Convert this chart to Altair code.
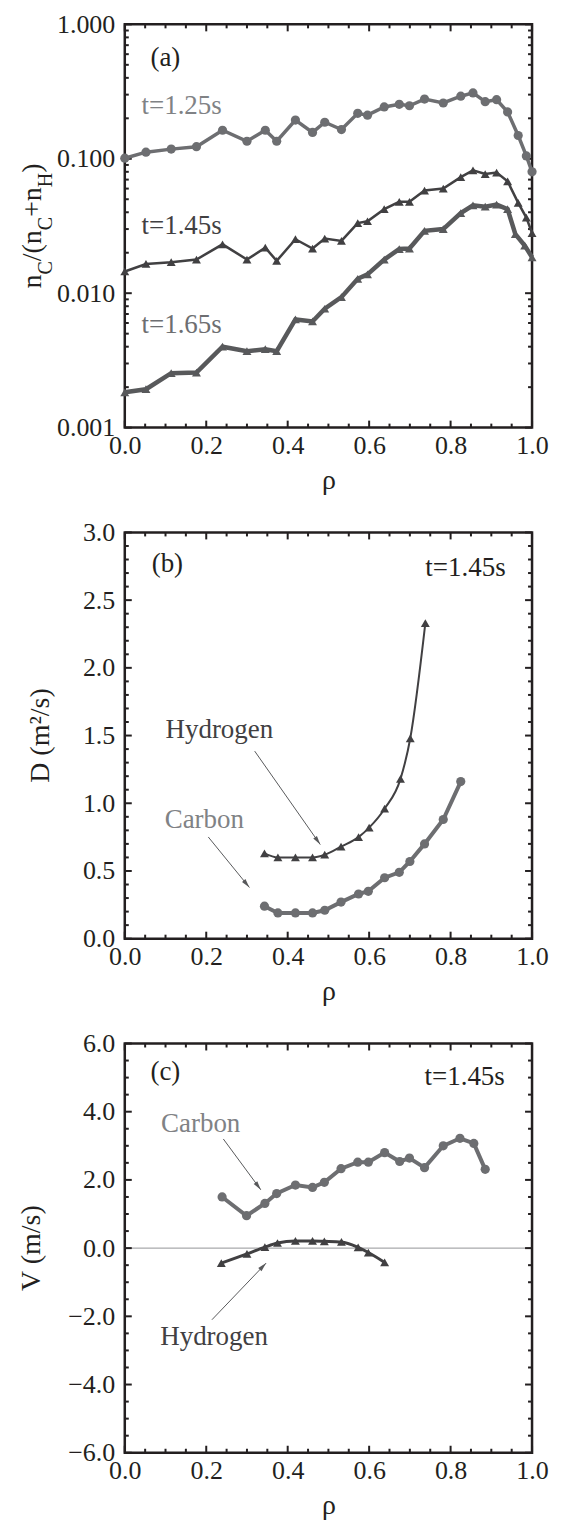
import math
import altair as alt
import pandas as pd

FONT = "Liberation Serif"

# ---------------- data ----------------
# Panel (a): carbon concentration profiles
rho_a = [0.000, 0.052, 0.114, 0.176, 0.240, 0.300, 0.345, 0.373, 0.419, 0.461,
         0.491, 0.532, 0.572, 0.596, 0.637, 0.674, 0.699, 0.736, 0.782, 0.825,
         0.855, 0.885, 0.913, 0.940, 0.966, 0.986, 1.000]
nc_125 = [0.101, 0.112, 0.118, 0.123, 0.163, 0.135, 0.163, 0.135, 0.194, 0.157,
          0.187, 0.165, 0.218, 0.211, 0.243, 0.254, 0.248, 0.278, 0.260, 0.292,
          0.309, 0.266, 0.275, 0.223, 0.149, 0.105, 0.080]
nc_145 = [0.0145, 0.0165, 0.0170, 0.0178, 0.0231, 0.0178, 0.0218, 0.0174, 0.0252, 0.0215,
          0.0255, 0.0245, 0.0332, 0.0343, 0.0422, 0.0478, 0.0478, 0.058, 0.060, 0.073,
          0.082, 0.077, 0.079, 0.068, 0.047, 0.0365, 0.028]
rho_165 = [0.000, 0.052, 0.114, 0.176, 0.240, 0.300, 0.345, 0.373, 0.419, 0.461,
           0.491, 0.532, 0.572, 0.596, 0.637, 0.674, 0.699, 0.736, 0.782, 0.825,
           0.855, 0.885, 0.913, 0.940, 0.959, 0.982, 1.000]
nc_165 = [0.00183, 0.00193, 0.00254, 0.00257, 0.0040, 0.0037, 0.00383, 0.0037, 0.00638, 0.00616,
          0.00766, 0.00934, 0.0128, 0.0138, 0.0178, 0.0213, 0.0215, 0.0291, 0.030, 0.0394,
          0.0451, 0.044, 0.0456, 0.0422, 0.0275, 0.0226, 0.0185]

# Panel (b): diffusion coefficients
rho_bH = [0.343, 0.376, 0.419, 0.461, 0.491, 0.531, 0.574, 0.600, 0.638, 0.677, 0.701, 0.738]
D_H = [0.63, 0.60, 0.60, 0.60, 0.62, 0.68, 0.75, 0.82, 0.96, 1.18, 1.48, 2.33]
rho_bC = [0.343, 0.376, 0.419, 0.461, 0.491, 0.531, 0.574, 0.598, 0.638, 0.674, 0.700, 0.736, 0.782, 0.825]
D_C = [0.24, 0.19, 0.19, 0.19, 0.21, 0.27, 0.33, 0.35, 0.45, 0.49, 0.57, 0.70, 0.88, 1.16]

# Panel (c): convection velocities
rho_cC = [0.239, 0.299, 0.344, 0.373, 0.419, 0.461, 0.490, 0.531, 0.572, 0.598,
          0.638, 0.675, 0.699, 0.736, 0.782, 0.823, 0.857, 0.885]
V_C = [1.50, 0.95, 1.31, 1.60, 1.85, 1.78, 1.93, 2.33, 2.52, 2.52,
       2.80, 2.54, 2.64, 2.36, 3.00, 3.22, 3.07, 2.31]
rho_cH = [0.237, 0.300, 0.344, 0.375, 0.419, 0.461, 0.490, 0.532, 0.573, 0.598, 0.638]
V_H = [-0.44, -0.17, 0.03, 0.15, 0.21, 0.21, 0.20, 0.18, 0.02, -0.13, -0.42]

# tick values
x_major = [0.0, 0.2, 0.4, 0.6, 0.8, 1.0]
x_minor = [round(i * 0.05, 2) for i in range(21) if i % 4 != 0]
ya_major = [0.001, 0.01, 0.1, 1.0]
ya_minor = [k * 10 ** d for d in (-3, -2, -1) for k in range(2, 10)]
yb_major = [0.0, 0.5, 1.0, 1.5, 2.0, 2.5, 3.0]
yb_minor = [round(i * 0.1, 1) for i in range(31) if i % 5 != 0]
yc_major = [-6.0, -4.0, -2.0, 0.0, 2.0, 4.0, 6.0]
yc_minor = [-6 + 0.5 * i for i in range(25) if i % 4 != 0]

# ---------------- styles ----------------
W = 408
HA, HB, HC = 404, 407, 410
C_GRAY = "#6d6e71"
C_DARK = "#414042"
C_MID = "#58595b"
C_TXT_LIGHT = "#808285"
C_BLACK = "#231f20"

xs = alt.Scale(domain=[0, 1], nice=False, zero=False, padding=0)
XAX = alt.Axis(values=x_major, format=".1f", title="ρ", labelFont=FONT, titleFont=FONT,
               labelFontSize=26, titleFontSize=28, labelFlush=False, labelOverlap=False)


class Panel:
    def __init__(self, ys, yvals, yfmt, H):
        self.ys = ys
        self.H = H
        self.yax = alt.Axis(values=yvals, format=yfmt, title=None, labelFont=FONT,
                            labelFontSize=26, labelFlush=False, labelOverlap=False)

    def X(self, f):
        return alt.X(f, scale=xs, axis=XAX)

    def Y(self, f):
        return alt.Y(f, scale=self.ys, axis=self.yax)

    def series(self, rho, vals, color, sw, shape, size, interp="linear"):
        d = pd.DataFrame({"r": rho, "v": vals})
        base = alt.Chart(d).encode(x=self.X("r:Q"), y=self.Y("v:Q"))
        return [
            base.mark_line(color=color, strokeWidth=sw, interpolate=interp),
            base.mark_point(filled=True, shape=shape, size=size, color=color, opacity=1),
        ]

    def ticks(self, ymaj, ymin, L1=7, L2=4):
        layers = []
        for vals, L in [(ymaj, L1), (ymin, L2)]:
            base = alt.Chart(pd.DataFrame({"v": vals})).mark_rule(color=C_BLACK, strokeWidth=2)
            layers.append(base.encode(y=self.Y("v:Q"), x=alt.value(0), x2=alt.value(L)))
            layers.append(base.encode(y=self.Y("v:Q"), x=alt.value(W - L), x2=alt.value(W)))
        for vals, L in [(x_major, L1), (x_minor, L2)]:
            base = alt.Chart(pd.DataFrame({"r": vals})).mark_rule(color=C_BLACK, strokeWidth=2)
            layers.append(base.encode(x=self.X("r:Q"), y=alt.value(self.H - L), y2=alt.value(self.H)))
            layers.append(base.encode(x=self.X("r:Q"), y=alt.value(0), y2=alt.value(L)))
        return layers

    def label(self, text, r, v, color, align="left", fs=27):
        d = pd.DataFrame({"r": [r], "v": [v], "t": [text]})
        return alt.Chart(d).mark_text(
            align=align, baseline="middle", font=FONT, fontSize=fs, color=color
        ).encode(x=self.X("r:Q"), y=self.Y("v:Q"), text="t:N")

    def arrow(self, r1, v1, r2, v2, yrange, color="#58595b"):
        d = pd.DataFrame({"r": [r1], "v": [v1], "r2": [r2], "v2": [v2]})
        rule = alt.Chart(d).mark_rule(color=color, strokeWidth=1).encode(
            x=self.X("r:Q"), y=self.Y("v:Q"), x2="r2:Q", y2="v2:Q"
        )
        dx = (r2 - r1) * W
        dy = -(v2 - v1) * self.H / yrange
        ang = math.degrees(math.atan2(dx, -dy)) % 360
        head = alt.Chart(pd.DataFrame({"r": [r2], "v": [v2]})).mark_point(
            shape="M0,0L-0.5,2L0.5,2Z", size=81, angle=ang, filled=True,
            color=color, opacity=1, strokeWidth=0,
        ).encode(x=self.X("r:Q"), y=self.Y("v:Q"))
        return [rule, head]


def vtext(text, px, py, fs, align="left"):
    return alt.Chart(pd.DataFrame({"t": [text]})).mark_text(
        angle=270, align=align, baseline="alphabetic", font=FONT, fontSize=fs, color=C_BLACK
    ).encode(x=alt.value(px), y=alt.value(py), text="t:N")


# ---------------- panel (a) ----------------
A = Panel(alt.Scale(type="log", domain=[0.001, 1.0], nice=False, padding=0), ya_major, ".3f", HA)
FS_T, FS_S = 28, 20
pieces = [("n", FS_T, 0.5), ("C", FS_S, 0.667), ("/(n", FS_T, 1.111),
          ("C", FS_S, 0.667), ("+n", FS_T, 1.064), ("H", FS_S, 0.722), (")", FS_T, 0.333)]
total = sum(fs * w for _, fs, w in pieces)
ypos = HA / 2 + total / 2
title_a = []
for txt, fs, w in pieces:
    px = -84 if fs == FS_T else -73
    title_a.append(vtext(txt, px, ypos, fs))
    ypos -= fs * w

layers_a = (
    A.ticks(ya_major, ya_minor)
    + A.series(rho_a, nc_125, C_GRAY, 3.5, "circle", 85)
    + A.series(rho_a, nc_145, C_DARK, 2.5, "triangle-up", 80)
    + A.series(rho_165, nc_165, C_MID, 4.5, "triangle-up", 80)
    + [
        A.label("(a)", 0.063, 0.56, C_BLACK),
        A.label("t=1.25s", 0.041, 0.248, C_TXT_LIGHT),
        A.label("t=1.45s", 0.041, 0.0317, C_DARK),
        A.label("t=1.65s", 0.041, 0.00575, C_GRAY),
    ]
    + title_a
)
pa = alt.layer(*layers_a).properties(width=W, height=HA)

# ---------------- panel (b) ----------------
B = Panel(alt.Scale(domain=[0, 3], nice=False, zero=False, padding=0), yb_major, ".1f", HB)
layers_b = (
    B.ticks(yb_major, yb_minor)
    + B.series(rho_bC, D_C, C_GRAY, 4, "circle", 85)
    + B.series(rho_bH, D_H, C_DARK, 2, "triangle-up", 80, interp="monotone")
    + [
        B.label("(b)", 0.066, 2.77, C_BLACK),
        B.label("t=1.45s", 0.738, 2.74, C_BLACK),
        B.label("Hydrogen", 0.100, 1.54, C_DARK),
        B.label("Carbon", 0.098, 0.88, C_TXT_LIGHT),
    ]
    + B.arrow(0.319, 1.385, 0.480, 0.695, 3.0)
    + B.arrow(0.205, 0.751, 0.306, 0.378, 3.0)
    + [vtext("D (m²/s)", -76, HB / 2, 28, align="center")]
)
pb = alt.layer(*layers_b).properties(width=W, height=HB)

# ---------------- panel (c) ----------------
Cp = Panel(alt.Scale(domain=[-6, 6], nice=False, zero=False, padding=0), yc_major, ".1f", HC)
zero = alt.Chart(pd.DataFrame({"v": [0.0]})).mark_rule(color="#939598", strokeWidth=1).encode(
    y=Cp.Y("v:Q")
)
layers_c = (
    [zero]
    + Cp.ticks(yc_major, yc_minor)
    + Cp.series(rho_cC, V_C, C_GRAY, 4, "circle", 85)
    + Cp.series(rho_cH, V_H, C_DARK, 3, "triangle-up", 80, interp="monotone")
    + [
        Cp.label("(c)", 0.063, 5.15, C_BLACK),
        Cp.label("t=1.45s", 0.736, 5.02, C_BLACK),
        Cp.label("Carbon", 0.089, 3.63, C_TXT_LIGHT),
        Cp.label("Hydrogen", 0.087, -2.61, C_DARK),
    ]
    + Cp.arrow(0.242, 3.20, 0.334, 1.71, 12.0)
    + Cp.arrow(0.214, -2.10, 0.347, -0.44, 12.0)
    + [vtext("V (m/s)", -85, HC / 2, 28, align="center")]
)
pc = alt.layer(*layers_c).properties(width=W, height=HC)

chart = (
    alt.vconcat(pa, pb, pc, spacing=21)
    .properties(padding={"left": 8, "top": 0, "right": 5, "bottom": 0})
    .configure(font=FONT)
    .configure_view(stroke=C_BLACK, strokeWidth=2.5)
    .configure_axis(
        grid=False, domain=False, ticks=False, tickSize=0, labelFlush=False,
        labelFont=FONT, labelFontSize=26, labelColor=C_BLACK,
        titleFont=FONT, titleFontSize=28, titleFontWeight="normal", titleColor=C_BLACK,
    )
    .configure_axisX(labelPadding=5, titlePadding=8)
    .configure_axisY(labelPadding=10)
)

chart.save("out.html", embed_options={"renderer": "svg", "actions": False})
